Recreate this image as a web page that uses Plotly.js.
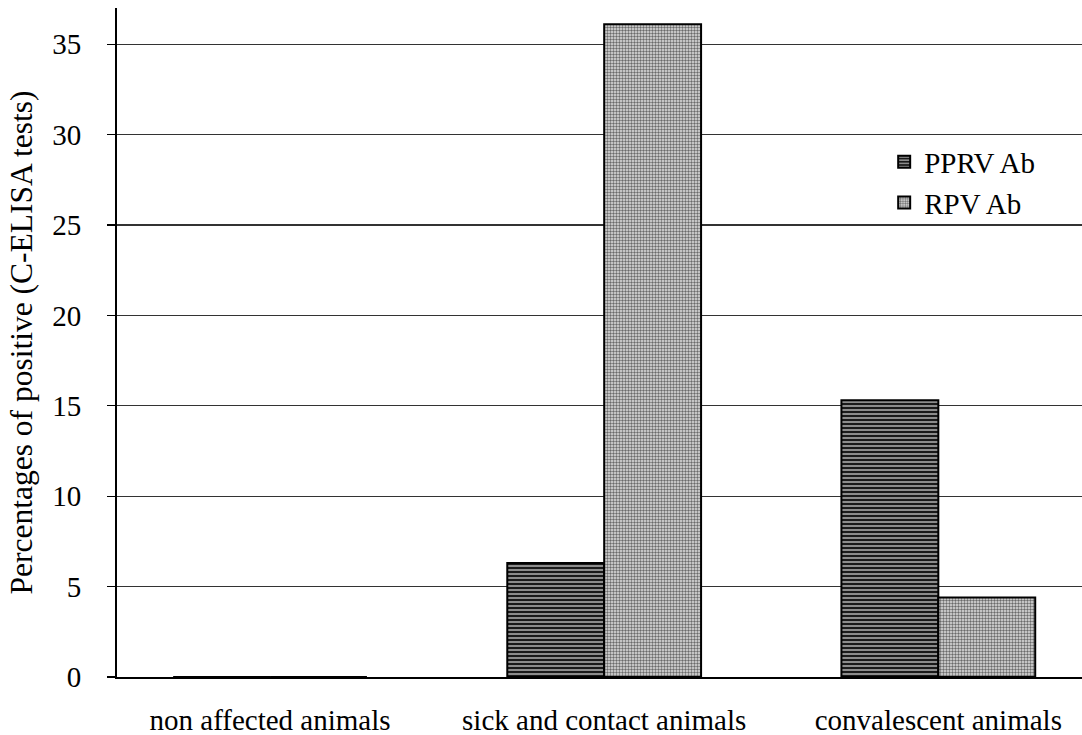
<!DOCTYPE html>
<html>
<head>
<meta charset="utf-8">
<script src="https://cdn.plot.ly/plotly-3.0.1.min.js"></script>
<style>html,body{margin:0;padding:0;background:#fff;}#chart{width:1082px;height:735px;}</style>
</head>
<body>
<div id="chart"></div>
<script>
var categories = ["non affected animals", "sick and contact animals", "convalescent animals"];
var pprvAb = [0, 6.3, 15.3];
var rpvAb = [0, 36.1, 4.4];
var yTicks = [0, 5, 10, 15, 20, 25, 30, 35];

var fontFam = "Liberation Serif";

var traces = [
  {
    type: "bar", name: "PPRV Ab", x: categories, y: pprvAb,
    marker: {
      color: "#2a2a2a",
      line: {color: "#000", width: 2},
      pattern: {shape: "-", bgcolor: "#1a1a1a", fgcolor: "#bdbdbd", size: 4, solidity: 0.35}
    }
  },
  {
    type: "bar", name: "RPV Ab", x: categories, y: rpvAb,
    marker: {
      color: "#b0b0b0",
      line: {color: "#000", width: 2},
      pattern: {shape: ".", bgcolor: "#e2e2e2", fgcolor: "#6a6a6a", size: 3, solidity: 0.5}
    }
  }
];

var layout = {
  width: 1082, height: 735,
  margin: {l: 117, r: 0, t: 8, b: 58},
  paper_bgcolor: "#fff", plot_bgcolor: "#fff",
  font: {family: fontFam, color: "#000", size: 28},
  barmode: "group",
  bargap: 0.42,
  bargroupgap: 0,
  showlegend: true,
  legend: {
    x: 0.795, y: 0.808, xanchor: "left", yanchor: "top",
    bgcolor: "rgba(0,0,0,0)", font: {family: fontFam, size: 29, color: "#000"},
    tracegroupgap: 0, itemwidth: 30
  },
  xaxis: {
    type: "category",
    range: [-0.458, 2.43],
    showgrid: false,
    showline: true, linecolor: "#000", linewidth: 2,
    ticks: "", ticklabelstandoff: 16,
    tickfont: {family: fontFam, size: 29, color: "#000"},
    zeroline: false, fixedrange: true
  },
  yaxis: {
    range: [0, 37],
    tickvals: yTicks,
    ticktext: yTicks.map(String),
    showgrid: true, gridcolor: "#333", gridwidth: 1.2,
    showline: true, linecolor: "#000", linewidth: 2,
    ticks: "outside", ticklen: 8, tickcolor: "#000", tickwidth: 1.2,
    ticklabelstandoff: 20,
    tickfont: {family: fontFam, size: 29, color: "#000"},
    zeroline: false,
    title: {text: "Percentages of positive (C-ELISA tests)", font: {family: fontFam, size: 31.5, color: "#000"}, standoff: 10},
    fixedrange: true
  }
};

Plotly.newPlot("chart", traces, layout, {displayModeBar: false, staticPlot: true});
</script>
</body>
</html>
